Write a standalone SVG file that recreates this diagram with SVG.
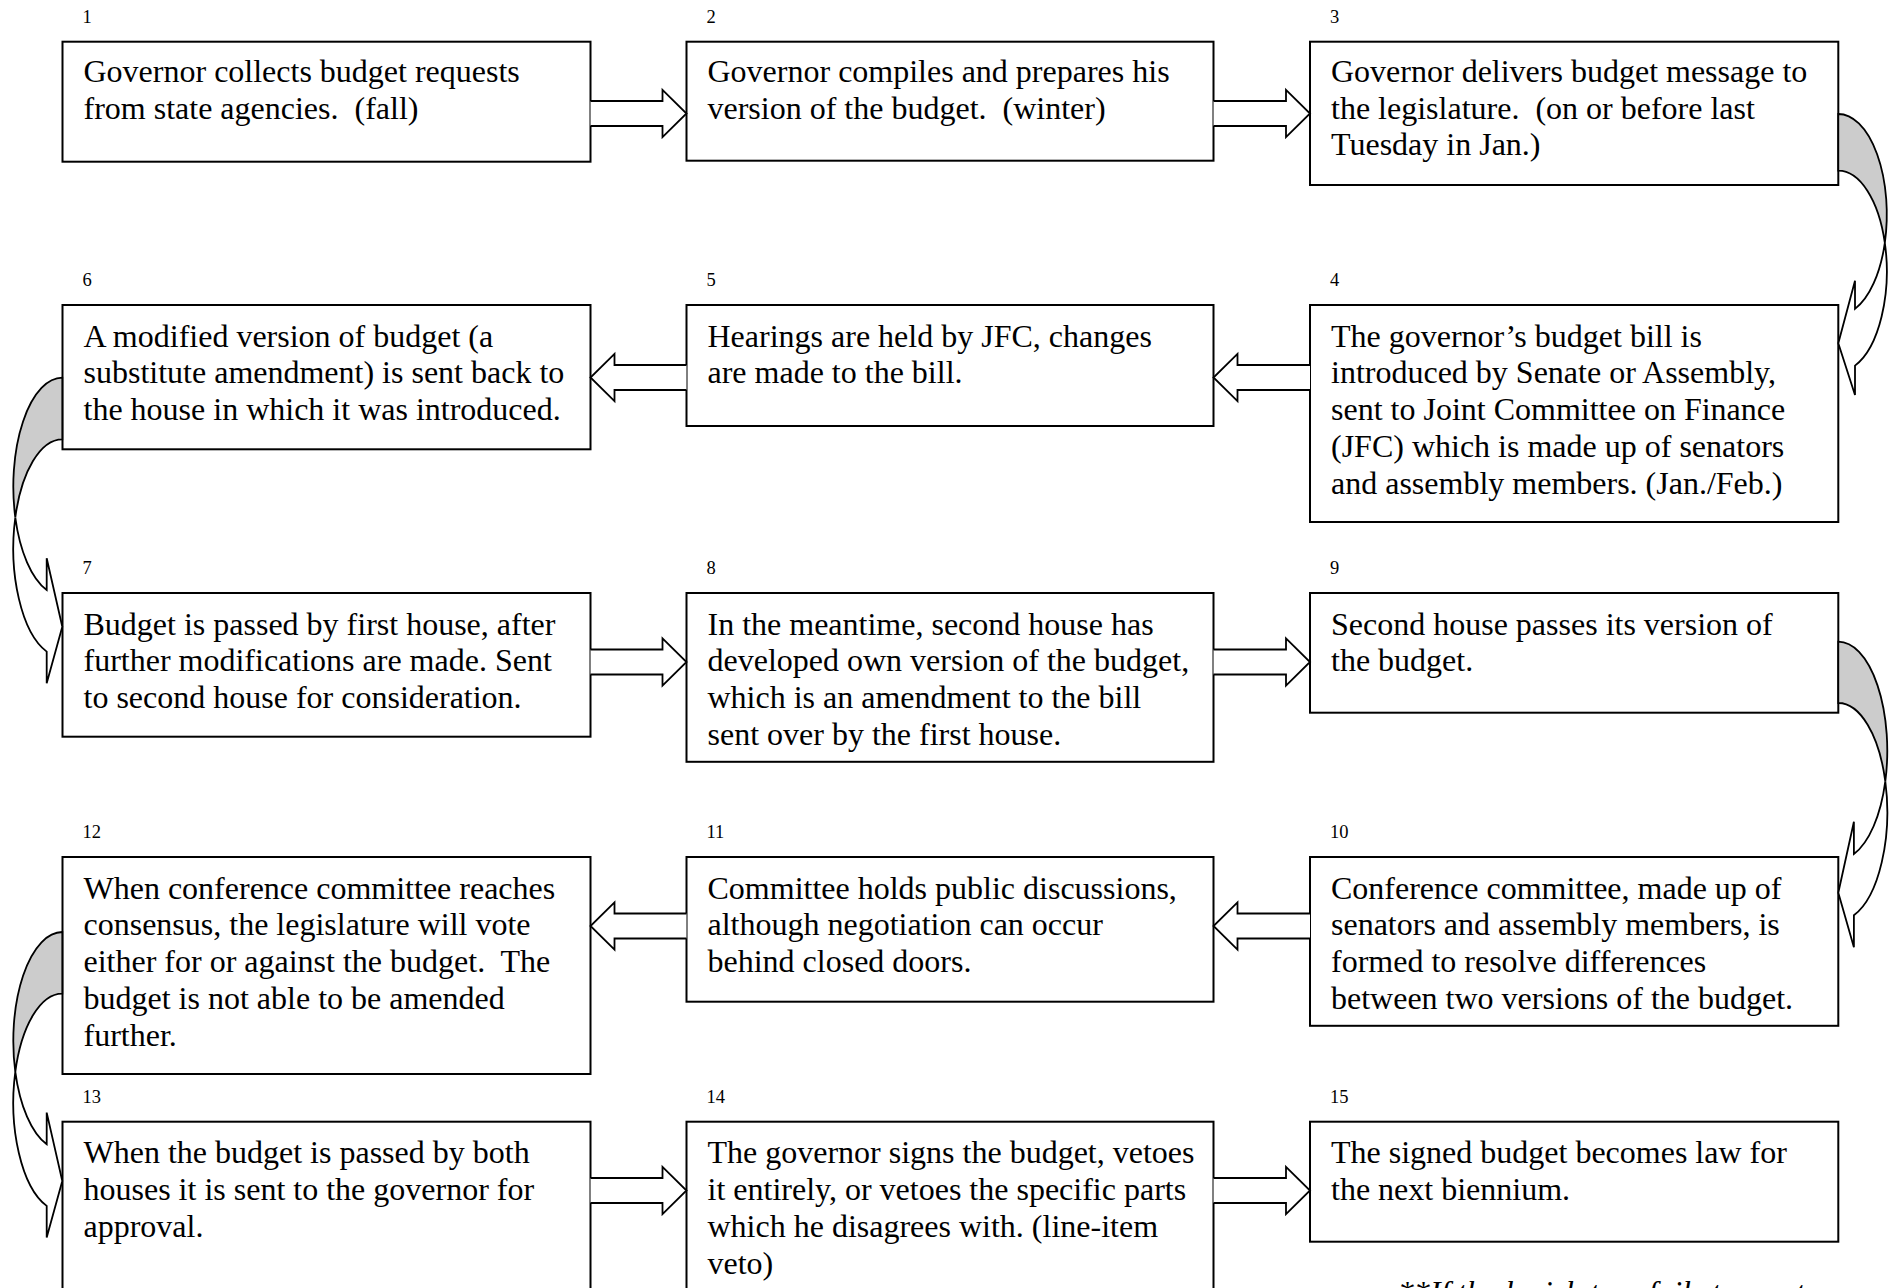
<svg xmlns="http://www.w3.org/2000/svg" width="1890" height="1288" viewBox="0 0 1890 1288">
<style>
.box{fill:#fff;stroke:#000;stroke-width:2}
.t{font-family:"Liberation Serif","Times New Roman",serif;font-size:32px;fill:#000;white-space:pre}
.n{font-family:"Liberation Serif","Times New Roman",serif;font-size:18.5px;fill:#000}
.ba{fill:#fff;stroke:#000;stroke-width:1.8;stroke-linejoin:miter}
.back{fill:#cccccc;stroke:#000;stroke-width:1.8}
.front{fill:#fff;stroke:#000;stroke-width:1.8;stroke-linejoin:miter}
.note{font-family:"Liberation Serif","Times New Roman",serif;font-size:32px;font-style:italic;fill:#000;white-space:pre}
</style>
<rect width="1890" height="1288" fill="#fff"/>
<g id="node1"><text class="n" x="82.5" y="22.7">1</text><rect class="box" x="62.5" y="41.7" width="528" height="120"/><text class="t" x="83.5" y="81.7">Governor collects budget requests</text><text class="t" x="83.5" y="118.5">from state agencies.  (fall)</text></g>
<g id="node2"><text class="n" x="706.5" y="22.7">2</text><rect class="box" x="686.5" y="41.7" width="527" height="119"/><text class="t" x="707.5" y="81.7">Governor compiles and prepares his</text><text class="t" x="707.5" y="118.5">version of the budget.  (winter)</text></g>
<g id="node3"><text class="n" x="1330" y="22.7">3</text><rect class="box" x="1310" y="41.7" width="528.3" height="143.3"/><text class="t" x="1331" y="81.7">Governor delivers budget message to</text><text class="t" x="1331" y="118.5">the legislature.  (on or before last</text><text class="t" x="1331" y="155.3">Tuesday in Jan.)</text></g>
<g id="node4"><text class="n" x="1330" y="286">4</text><rect class="box" x="1310" y="305" width="528.3" height="217"/><text class="t" x="1331" y="346.5">The governor’s budget bill is</text><text class="t" x="1331" y="383.3">introduced by Senate or Assembly,</text><text class="t" x="1331" y="420.1">sent to Joint Committee on Finance</text><text class="t" x="1331" y="456.9">(JFC) which is made up of senators</text><text class="t" x="1331" y="493.7">and assembly members. (Jan./Feb.)</text></g>
<g id="node5"><text class="n" x="706.5" y="286">5</text><rect class="box" x="686.5" y="305" width="527" height="121"/><text class="t" x="707.5" y="346.5">Hearings are held by JFC, changes</text><text class="t" x="707.5" y="383.3">are made to the bill.</text></g>
<g id="node6"><text class="n" x="82.5" y="286">6</text><rect class="box" x="62.5" y="305" width="528" height="144.3"/><text class="t" x="83.5" y="346.5">A modified version of budget (a</text><text class="t" x="83.5" y="383.3">substitute amendment) is sent back to</text><text class="t" x="83.5" y="420.1">the house in which it was introduced.</text></g>
<g id="node7"><text class="n" x="82.5" y="574">7</text><rect class="box" x="62.5" y="593" width="528" height="143.7"/><text class="t" x="83.5" y="634.5">Budget is passed by first house, after</text><text class="t" x="83.5" y="671.3">further modifications are made. Sent</text><text class="t" x="83.5" y="708.1">to second house for consideration.</text></g>
<g id="node8"><text class="n" x="706.5" y="574">8</text><rect class="box" x="686.5" y="593" width="527" height="168.8"/><text class="t" x="707.5" y="634.5">In the meantime, second house has</text><text class="t" x="707.5" y="671.3">developed own version of the budget,</text><text class="t" x="707.5" y="708.1">which is an amendment to the bill</text><text class="t" x="707.5" y="744.9">sent over by the first house.</text></g>
<g id="node9"><text class="n" x="1330" y="574">9</text><rect class="box" x="1310" y="593" width="528.3" height="119.7"/><text class="t" x="1331" y="634.5">Second house passes its version of</text><text class="t" x="1331" y="671.3">the budget.</text></g>
<g id="node10"><text class="n" x="1330" y="838">10</text><rect class="box" x="1310" y="857" width="528.3" height="168.8"/><text class="t" x="1331" y="898.5">Conference committee, made up of</text><text class="t" x="1331" y="935.3">senators and assembly members, is</text><text class="t" x="1331" y="972.1">formed to resolve differences</text><text class="t" x="1331" y="1008.9">between two versions of the budget.</text></g>
<g id="node11"><text class="n" x="706.5" y="838">11</text><rect class="box" x="686.5" y="857" width="527" height="144.7"/><text class="t" x="707.5" y="898.5">Committee holds public discussions,</text><text class="t" x="707.5" y="935.3">although negotiation can occur</text><text class="t" x="707.5" y="972.1">behind closed doors.</text></g>
<g id="node12"><text class="n" x="82.5" y="838">12</text><rect class="box" x="62.5" y="857" width="528" height="217"/><text class="t" x="83.5" y="898.5">When conference committee reaches</text><text class="t" x="83.5" y="935.3">consensus, the legislature will vote</text><text class="t" x="83.5" y="972.1">either for or against the budget.  The</text><text class="t" x="83.5" y="1008.9">budget is not able to be amended</text><text class="t" x="83.5" y="1045.7">further.</text></g>
<g id="node13"><text class="n" x="82.5" y="1102.7">13</text><rect class="box" x="62.5" y="1121.7" width="528" height="200"/><text class="t" x="83.5" y="1163.2">When the budget is passed by both</text><text class="t" x="83.5" y="1200">houses it is sent to the governor for</text><text class="t" x="83.5" y="1236.8">approval.</text></g>
<g id="node14"><text class="n" x="706.5" y="1102.7">14</text><rect class="box" x="686.5" y="1121.7" width="527" height="200"/><text class="t" x="707.5" y="1163.2">The governor signs the budget, vetoes</text><text class="t" x="707.5" y="1200">it entirely, or vetoes the specific parts</text><text class="t" x="707.5" y="1236.8">which he disagrees with. (line-item</text><text class="t" x="707.5" y="1273.6">veto)</text></g>
<g id="node15"><text class="n" x="1330" y="1102.7">15</text><rect class="box" x="1310" y="1121.7" width="528.3" height="120"/><text class="t" x="1331" y="1163.2">The signed budget becomes law for</text><text class="t" x="1331" y="1200">the next biennium.</text></g>
<text id="note" class="note" x="1398" y="1303">**If the legislature fails to meet</text>
<g id="connectors">
<polyline class="ba" points="590.5,101 662.5,101 662.5,89.8 686.5,113.5 662.5,137.2 662.5,126 590.5,126"/>
<polyline class="ba" points="1213.5,101 1286,101 1286,89.8 1310,113.5 1286,137.2 1286,126 1213.5,126"/>
<polyline class="ba" points="1310,365 1237.5,365 1237.5,353.8 1213.5,377.5 1237.5,401.2 1237.5,390 1310,390"/>
<polyline class="ba" points="686.5,365 614.5,365 614.5,353.8 590.5,377.5 614.5,401.2 614.5,390 686.5,390"/>
<polyline class="ba" points="590.5,649.5 662.5,649.5 662.5,638.3 686.5,662 662.5,685.7 662.5,674.5 590.5,674.5"/>
<polyline class="ba" points="1213.5,649.5 1286,649.5 1286,638.3 1310,662 1286,685.7 1286,674.5 1213.5,674.5"/>
<polyline class="ba" points="1310,913.5 1237.5,913.5 1237.5,902.3 1213.5,926 1237.5,949.7 1237.5,938.5 1310,938.5"/>
<polyline class="ba" points="686.5,913.5 614.5,913.5 614.5,902.3 590.5,926 614.5,949.7 614.5,938.5 686.5,938.5"/>
<polyline class="ba" points="590.5,1178 662.5,1178 662.5,1166.8 686.5,1190.5 662.5,1214.2 662.5,1203 590.5,1203"/>
<polyline class="ba" points="1213.5,1178 1286,1178 1286,1166.8 1310,1190.5 1286,1214.2 1286,1203 1213.5,1203"/>
<g id="c3-4"><path class="back" d="M1838.3,114 A48.5,100.5 0 0 1 1884.83,242.85 A48.5,100.5 0 0 0 1838.3,170.7 Z"/><path class="front" d="M1884.83,242.85 A48.5,100.5 0 0 1 1855,365.6 L1855,395 L1838.3,343.3 L1855,280.7 L1855,308.9 A48.5,100.5 0 0 0 1884.83,242.85 Z"/></g>
<g id="c9-10"><path class="back" d="M1838.3,641.7 A49,109 0 0 1 1885.3,781.35 A49,109 0 0 0 1838.3,703 Z"/><path class="front" d="M1885.3,781.35 A49,109 0 0 1 1853.9,915.3 L1853.9,947.3 L1838.3,892.7 L1853.9,821.7 L1853.9,854 A49,109 0 0 0 1885.3,781.35 Z"/></g>
<g id="c6-7"><path class="back" d="M62.3,377.7 A49,109 0 0 0 15.3,517.5 A49,109 0 0 1 62.3,439.3 Z"/><path class="front" d="M15.3,517.5 A49,109 0 0 0 46.7,651.6 L46.7,683.3 L62.3,626.7 L46.7,558.3 L46.7,590 A49,109 0 0 1 15.3,517.5 Z"/></g>
<g id="c12-13"><path class="back" d="M62.3,932 A49,109 0 0 0 15.3,1071.8 A49,109 0 0 1 62.3,993.6 Z"/><path class="front" d="M15.3,1071.8 A49,109 0 0 0 46.7,1205.9 L46.7,1237.6 L62.3,1181 L46.7,1112.6 L46.7,1144.3 A49,109 0 0 1 15.3,1071.8 Z"/></g>
</g>
</svg>
